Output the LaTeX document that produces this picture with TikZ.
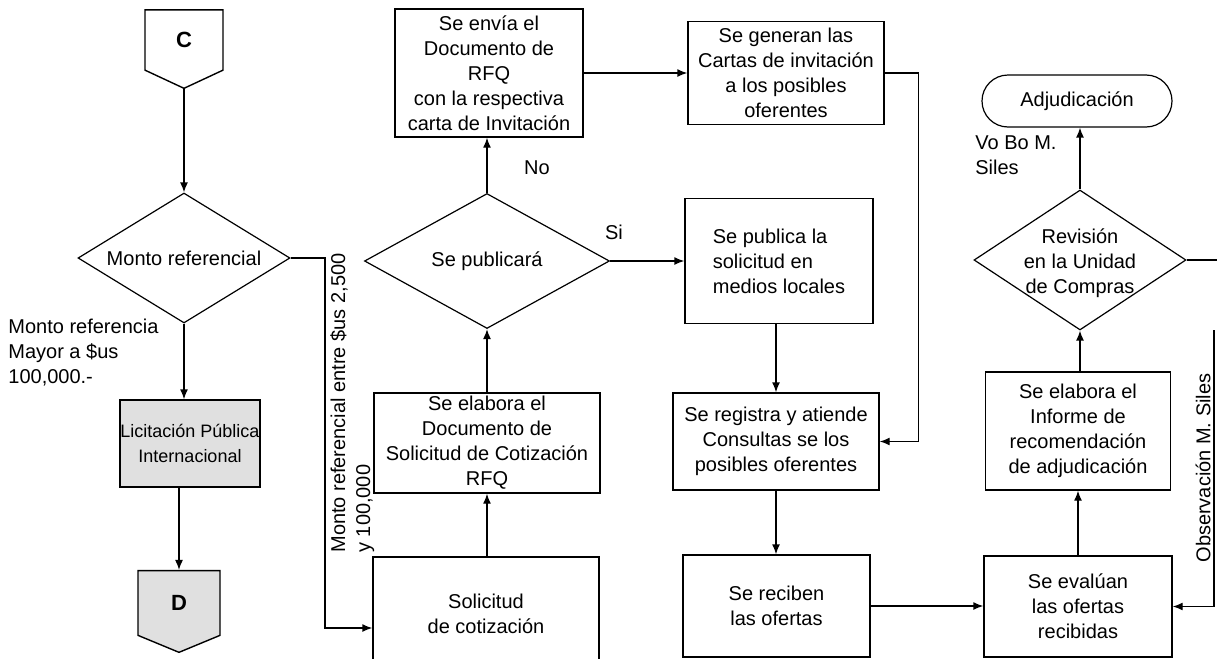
\documentclass[tikz,border=0pt]{standalone}
\usepackage{fontspec}
\setmainfont{Liberation Sans}
\usetikzlibrary{arrows.meta}
\usetikzlibrary{shapes.geometric}
\usetikzlibrary{shapes.symbols}

\begin{document}
\begin{tikzpicture}[x=0.5pt, y=-0.5pt,
    font=\fontsize{10}{12.5}\selectfont,
    every node/.style={inner sep=0pt},
    box/.style={draw, rectangle, align=center, line width=0.7pt},
    decision/.style={draw, diamond, line width=0.6pt},
    offpage/.style={draw, signal, signal to=south, signal from=nowhere, line width=0.7pt, font=\bfseries\fontsize{11}{12}\selectfont},
    flow/.style={-{Latex[length=5pt, width=4pt]}, line width=0.7pt},
    plain/.style={line width=0.7pt}]
    \path[use as bounding box] (0,0) rectangle (1217,659);
    \fill[white] (0,0) rectangle (1217,659);
    \clip (0,0) rectangle (1217,659);

    % left column
    \node[offpage, minimum width=39pt, minimum height=32pt, signal pointer angle=130] (c) at (184,40) {C};
    \node[decision, minimum width=106pt, minimum height=65pt] (monto) at (184,258) {};
    \node (montotxt) at (monto) {Monto referencial};
    \node[box, fill=black!12, minimum width=70pt, minimum height=43.5pt, font=\fontsize{9}{12.5}\selectfont] (lic) at (190,443.5) {Licitación Pública\\Internacional};
    \node[offpage, fill=black!12, minimum width=41pt, minimum height=34pt, signal pointer angle=135] (d) at (179,603) {D};
    \node[align=left, anchor=west] (mayor) at (8,353) {Monto referencia\\Mayor a \$us\\100,000.-};
    \node[rotate=90, align=left, anchor=north west] (rango) at (330,553) {Monto referencial entre \$us 2,500\\y 100,000};
    \coordinate (bend1) at (325,628);

    % second column
    \node[box, minimum width=113pt, minimum height=56.5pt] (solicitud) at (486,613.5) {Solicitud\\de cotización};
    \node[box, minimum width=113pt, minimum height=50pt] (elabora) at (487,443) {Se elabora el\\Documento de\\Solicitud de Cotización\\RFQ};
    \node[decision, minimum width=122.5pt, minimum height=67.5pt] (publicara) at (487,261) {};
    \node (publicaratxt) at (publicara) {Se publicará};
    \node[box, minimum width=94pt, minimum height=64pt] (envia) at (489,73) {Se envía el\\Documento de\\RFQ\\con la respectiva\\carta de Invitación};
    \node (no) at (537,168) {No};
    \node (si) at (614,232) {Si};

    % third column
    \node[box, minimum width=98pt, minimum height=51.5pt] (generan) at (786,73) {Se generan las\\Cartas de invitación\\a los posibles\\oferentes};
    \node[box, align=left, minimum width=94pt, minimum height=62.5pt] (publica) at (779,261) {Se publica la\\solicitud en\\medios locales};
    \node[box, minimum width=103pt, minimum height=48.5pt] (registra) at (776,441.5) {Se registra y atiende\\Consultas se los\\posibles oferentes};
    \node[box, minimum width=93.5pt, minimum height=51pt] (reciben) at (776.5,606) {Se reciben\\las ofertas};

    % right column
    \node[box, minimum width=94pt, minimum height=50.5pt] (evaluan) at (1078,606.5) {Se evalúan\\las ofertas\\recibidas};
    \node[box, minimum width=92.5pt, minimum height=59pt] (informe) at (1078,431) {Se elabora el\\Informe de\\recomendación\\de adjudicación};
    \node[decision, minimum width=106pt, minimum height=70pt] (rev) at (1080,260) {};
    \node[align=center] (revtxt) at (1080,263) {Revisión\\en la Unidad\\de Compras};
    \node[draw, rounded corners=13pt, line width=0.6pt, minimum width=95pt, minimum height=26pt] (adj) at (1077,101) {Adjudicación};
    \node[align=left, anchor=west] (vobo) at (975,155) {Vo Bo M.\\Siles};
    \node[rotate=90] (obsv) at (1203,468) {Observación M. Siles};
    \coordinate (rim) at (1217,260);
    \coordinate (obs) at (1214,330);

    % connectors
    \draw[flow] (c.south) -- (monto.north);
    \draw[flow] (monto.south) -- (monto.south |- lic.north);
    \draw[flow] (d.north |- lic.south) -- (d.north);
    \draw[flow] (monto.east) -| (bend1) -- (bend1 -| solicitud.west);
    \draw[flow] (solicitud.north -| elabora) -- (elabora.south);
    \draw[flow] (elabora.north) -- (publicara.south);
    \draw[flow] (publicara.north) -- (publicara.north |- envia.south);
    \draw[flow] (envia.east) -- (generan.west);
    \draw[flow] (generan.east) -- ++(34,0) |- (registra.east);
    \draw[flow] (publicara.east) -- (publica.west);
    \draw[flow] (publica.south -| registra) -- (registra.north);
    \draw[flow] (registra.south) -- (registra.south |- reciben.north);
    \draw[flow] (reciben.east) -- (reciben.east -| evaluan.west);
    \draw[flow] (evaluan.north) -- (informe.south);
    \draw[flow] (informe.north -| rev) -- (rev.south);
    \draw[flow] (rev.north) -- (rev.north |- adj.south);
    \draw[plain] (rev.east) -- (rim);
    \draw[flow] (obs) |- (evaluan.east);
\end{tikzpicture}
\end{document}
